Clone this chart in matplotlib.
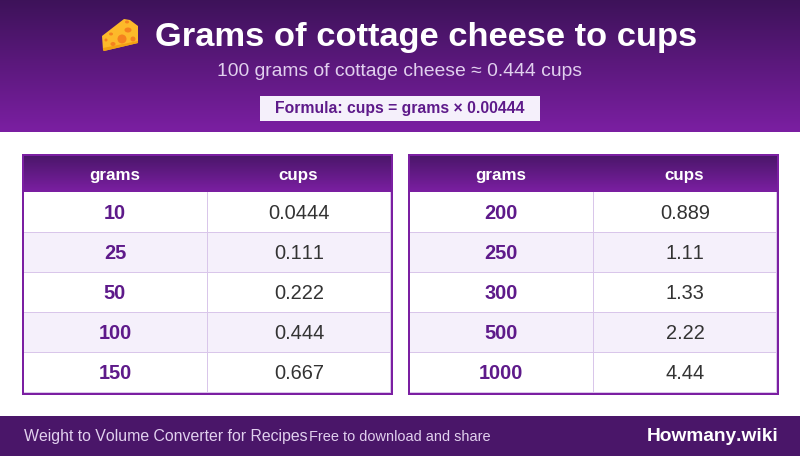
import numpy as np
import matplotlib
matplotlib.use("Agg")
import matplotlib.pyplot as plt
from matplotlib.patches import Rectangle, Polygon, Ellipse
from matplotlib.colors import LinearSegmentedColormap

plt.rcParams['font.family'] = ['Liberation Sans', 'DejaVu Sans']
plt.rcParams['text.kerning_factor'] = 6

TITLE = "Grams of cottage cheese to cups"
SUBTITLE = "100 grams of cottage cheese ≈ 0.444 cups"
FORMULA = "Formula: cups = grams × 0.00444"
COLUMNS = ["grams", "cups"]
grams_left = ["10", "25", "50", "100", "150"]
cups_left = ["0.0444", "0.111", "0.222", "0.444", "0.667"]
grams_right = ["200", "250", "300", "500", "1000"]
cups_right = ["0.889", "1.11", "1.33", "2.22", "4.44"]
FOOT_L = "Weight to Volume Converter for Recipes"
FOOT_M = "Free to download and share"
FOOT_R = "Howmany.wiki"

DEEP = "#3d1259"
HEAD = "#4a1669"
PURPLE = "#7b1fa2"
INK = "#5e1a8a"
LINE = "#d9c6ea"
ALT = "#f5f0fb"
px = 0.72  # points per pixel at dpi 100

fig = plt.figure(figsize=(8, 4.5601), dpi=100, facecolor="white")
ax = fig.add_axes([0, 0, 1, 1])
ax.axis("off")


def gradient(x0, x1, y0, y1, c0, c1, z=1):
    cm = LinearSegmentedColormap.from_list("g", [c0, c1])
    ax.imshow(np.linspace(0, 1, 256)[:, None], extent=(x0, x1, y1, y0), cmap=cm,
              aspect="auto", zorder=z, interpolation="bilinear")


def box(x, y, w, h, color, z):
    ax.add_patch(Rectangle((x, y), w, h, fc=color, ec="none", lw=0, zorder=z))


gradient(0, 800, 0, 132, DEEP, PURPLE)

# cheese icon
ax.add_patch(Polygon([(102, 36), (124, 19), (130, 20), (138, 26), (138, 43), (104, 51), (103, 50)],
                     fc="#fdb92a", ec="none", zorder=3))
ax.add_patch(Polygon([(103, 48), (138, 41), (138, 43), (104, 51), (103, 50)],
                     fc="#f2a013", ec="none", zorder=4))
for cx, cy, w, h in [(122, 39, 9, 9), (128, 30, 7, 5), (111, 34, 4, 3), (133, 39, 5, 5),
                     (113, 44, 5, 4), (106, 40, 3, 3), (127, 22, 4, 3)]:
    ax.add_patch(Ellipse((cx, cy), w, h, fc="#f5821f", ec="none", zorder=5))

ax.text(426.5, 37, TITLE, color="white", fontsize=34.5 * px, fontweight="bold",
        ha="center", va="center", zorder=6)
ax.text(399.5, 71.5, SUBTITLE, color="#e1d0ee", fontsize=19.3 * px, ha="center", va="center", zorder=6)
box(260, 96, 280, 25, ALT, 5)
ax.text(400, 108.5, FORMULA, color=INK, fontsize=15.75 * px, fontweight="bold",
        ha="center", va="center", zorder=6)


def table(x0, grams, cups):
    x1 = x0 + 371
    box(x0, 154, 371, 241, "white", 2)
    gradient(x0 + 2, x1 - 2, 156, 192, HEAD, PURPLE, z=3)
    for i, (g, c) in enumerate(zip(grams, cups)):
        top = 192 + 40 * i
        if i % 2:
            box(x0, top, 371, 40, ALT, 3)
        box(x0, top + 40, 371, 1, LINE, 4)
        ax.text(x0 + 93, top + 21.5, g, color=INK, fontsize=20 * px, fontweight="bold",
                ha="center", va="center", zorder=6)
        ax.text(x0 + 277, top + 21.5, c, color="#333333", fontsize=20 * px,
                ha="center", va="center", zorder=6)
    box(x0 + 185, 192, 1, 200, LINE, 4)
    box(x1 - 3, 192, 1, 201, LINE, 4)
    ax.text(x0 + 93, 175.5, COLUMNS[0], color="white", fontsize=17 * px, fontweight="bold",
            ha="center", va="center", zorder=6)
    ax.text(x0 + 276, 175.5, COLUMNS[1], color="white", fontsize=17 * px, fontweight="bold",
            ha="center", va="center", zorder=6)
    box(x0, 154, 371, 2, PURPLE, 7)
    box(x0, 393, 371, 2, PURPLE, 7)
    box(x0, 154, 2, 241, PURPLE, 7)
    box(x1 - 2, 154, 2, 241, PURPLE, 7)


table(22, grams_left, cups_left)
table(408, grams_right, cups_right)

box(0, 416, 800, 40, HEAD, 2)
ax.text(24, 436.5, FOOT_L, color="#e1d0ee", fontsize=15.9 * px, ha="left", va="center", zorder=6)
ax.text(309, 436.5, FOOT_M, color="#e1d0ee", fontsize=14.5 * px, ha="left", va="center", zorder=6)
ax.text(778.5, 436.5, FOOT_R, color="white", fontsize=19.2 * px, fontweight="bold",
        ha="right", va="center", zorder=6)

ax.set_xlim(0, 800)
ax.set_ylim(456, 0)
fig.savefig("out.png", dpi=100, facecolor="white")
